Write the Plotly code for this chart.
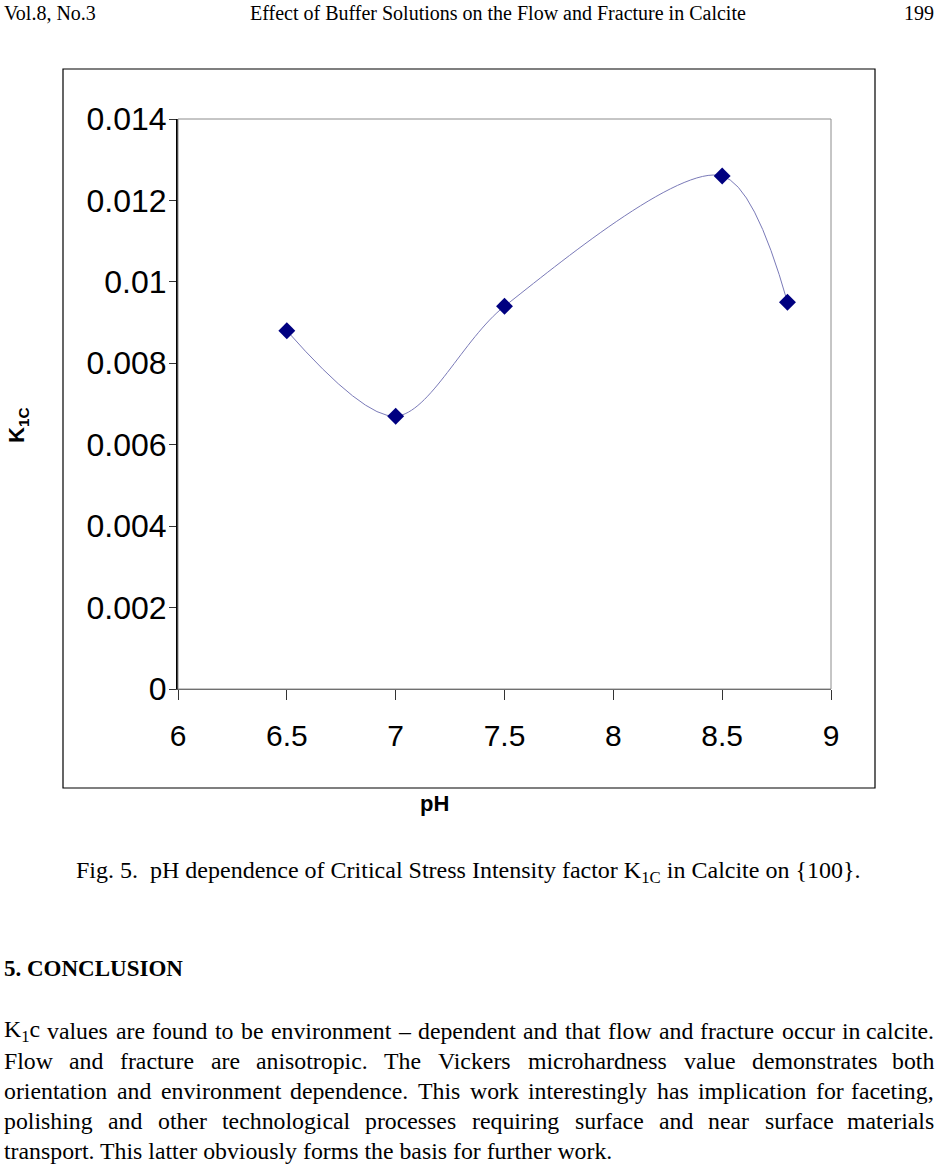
import plotly.graph_objects as go

# data
ph = [6.5, 7.0, 7.5, 8.5, 8.8]
k1c = [0.0088, 0.0067, 0.0094, 0.0126, 0.0095]

x_ticks = [6, 6.5, 7, 7.5, 8, 8.5, 9]
x_tick_labels = ["6", "6.5", "7", "7.5", "8", "8.5", "9"]
y_ticks = [0, 0.002, 0.004, 0.006, 0.008, 0.01, 0.012, 0.014]
y_tick_labels = ["0", "0.002", "0.004", "0.006", "0.008", "0.01", "0.012", "0.014"]

# page text
header_left = "Vol.8, No.3"
header_mid = "Effect of Buffer Solutions on the Flow and Fracture in Calcite"
header_right = "199"
caption = "Fig. 5.&nbsp; pH dependence of Critical Stress Intensity factor K<sub>1C</sub> in Calcite on {100}."
heading = "5. CONCLUSION"
body_lines = [
    "K<sub>1</sub>c values are found to be environment – dependent and that flow and fracture occur in calcite.",
    "Flow and fracture are anisotropic. The Vickers microhardness value demonstrates both",
    "orientation and environment dependence. This work interestingly has implication for faceting,",
    "polishing and other technological processes requiring surface and near surface materials",
    "transport. This latter obviously forms the basis for further work.",
]

W, H = 937, 1172
SERIF = "Liberation Serif"
SANS = "Liberation Sans"

# rough Times widths (1/1000 em) for justifying the paragraph
widths = {' ': 250, 'a': 444, 'b': 500, 'c': 444, 'd': 500, 'e': 444, 'f': 333, 'g': 500,
          'h': 500, 'i': 278, 'j': 278, 'k': 500, 'l': 278, 'm': 778, 'n': 500, 'o': 500,
          'p': 500, 'q': 500, 'r': 333, 's': 389, 't': 278, 'u': 500, 'v': 500, 'w': 722,
          'x': 500, 'y': 500, 'z': 444, 'F': 556, 'K': 722, 'T': 611, 'V': 722, '.': 250,
          ',': 250, '–': 500, '1': 350}


def word_width(word, size):
    plain = word.replace("<sub>", "").replace("</sub>", "")
    return sum(widths.get(ch, 500) for ch in plain) / 1000 * size


def text_at(px, py, text, size, family=SERIF, xanchor="center", **kw):
    # px, py are page pixels from the top-left corner
    return dict(x=px / W, y=1 - py / H, text=text, xref="paper", yref="paper",
                xanchor=xanchor, yanchor="middle", showarrow=False, borderpad=0,
                font=dict(family=family, size=size, color="black"), **kw)


fig = go.Figure()
fig.add_trace(go.Scatter(x=ph, y=k1c, mode="lines+markers",
                         line=dict(color="#7a7ab8", width=1, shape="spline", smoothing=0.9),
                         marker=dict(symbol="diamond", size=13, color="#000080"),
                         showlegend=False))

ann = [
    text_at(3, 13, header_left, 20, xanchor="left"),
    text_at(498, 13, header_mid, 20),
    text_at(935, 13, header_right, 20, xanchor="right"),
    text_at(434, 803, "<b>pH</b>", 22, family=SANS),
    text_at(18, 425, "<b>K<sub>1C</sub></b>", 22, family=SANS, textangle=-90),
    text_at(468, 872, caption, 24),
    text_at(3, 968, "<b>" + heading + "</b>", 23, xanchor="left"),
]

# justified paragraph: each word placed on its own
fs = 23.8
left, right = 3, 935
for i, line in enumerate(body_lines):
    py = 1031 + 30 * i
    if i == len(body_lines) - 1:
        ann.append(text_at(left, py, line, fs, xanchor="left"))
        continue
    words = line.split(" ")
    ws = [word_width(w, fs) for w in words]
    gap = (right - left - sum(ws)) / (len(words) - 1)
    pos = left
    for j, w in enumerate(words):
        if j == len(words) - 1:
            ann.append(text_at(right, py, w, fs, xanchor="right"))
        else:
            ann.append(text_at(pos, py, w, fs, xanchor="left"))
        pos += ws[j] + gap

shapes = [
    # outer chart frame
    dict(type="rect", xref="paper", yref="paper", x0=63 / W, x1=875 / W,
         y0=1 - 788 / H, y1=1 - 69 / H, line=dict(color="black", width=1.2)),
    # plot area border
    dict(type="rect", xref="x domain", yref="y domain", x0=0, x1=1, y0=0, y1=1,
         line=dict(color="#8c8c8c", width=1)),
]

fig.update_layout(
    width=W, height=H,
    margin=dict(l=0, r=0, t=0, b=0, pad=0, autoexpand=False),
    paper_bgcolor="white", plot_bgcolor="white",
    annotations=ann, shapes=shapes,
    xaxis=dict(domain=[178 / W, 831 / W], range=[6, 9], tickvals=x_ticks, ticktext=x_tick_labels,
               automargin=False, showgrid=False, zeroline=False, showline=True,
               linecolor="#555555", linewidth=1, ticks="outside", ticklen=10,
               tickcolor="#333333", ticklabelstandoff=10,
               tickfont=dict(family=SANS, size=30, color="black")),
    yaxis=dict(domain=[1 - 689 / H, 1 - 119 / H], range=[0, 0.014], tickvals=y_ticks,
               ticktext=y_tick_labels, automargin=False, showgrid=False, zeroline=False,
               showline=True, linecolor="black", linewidth=2, ticks="outside", ticklen=7,
               tickcolor="#333333", ticklabelstandoff=-4,
               tickfont=dict(family=SANS, size=32, color="black")),
)

# drop the browser's default body margin so the page lines up with the figure
fig.write_html("out.html", config={"displayModeBar": False},
               post_script="document.body.style.margin='0';")
